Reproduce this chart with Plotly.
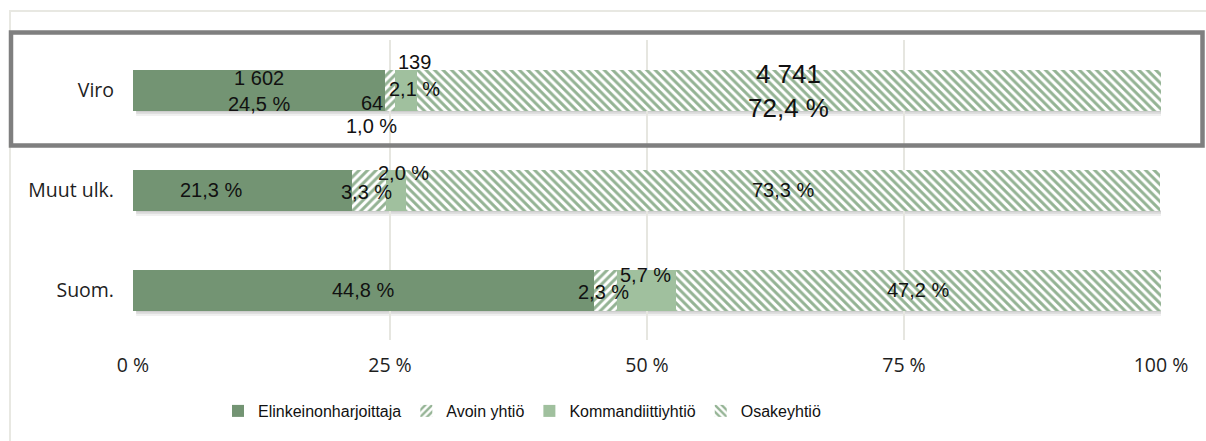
import plotly.graph_objects as go

# ---------------- data ----------------
categories = ["Viro", "Muut ulk.", "Suom."]
series_names = ["Elinkeinonharjoittaja", "Avoin yhtiö", "Kommandiittiyhtiö", "Osakeyhtiö"]
elinkeino = [24.5, 21.3, 44.8]
avoin = [1.0, 3.3, 2.3]
kommandiitti = [2.1, 2.0, 5.7]
osake = [72.4, 73.3, 47.2]
viro_counts = [1602, 64, 139, 4741]
x_tickvals = [0, 25, 50, 75, 100]
x_ticktext = ["0 %", "25 %", "50 %", "75 %", "100 %"]

series_values = [elinkeino, avoin, kommandiitti, osake]

# ---------------- style ----------------
W, H = 1206, 441
ML, MT = 133, 40
PW, PH = 1028, 300
MR, MB = W - ML - PW, H - MT - PH

colors = ["#739473", "#ffffff", "#a0c09e", "#ffffff"]
patterns = [None, "/", None, "\\"]
hatch = "#2a682a"

LABEL_FONT = dict(family="Liberation Sans, Arial, sans-serif", size=20, color="#111111")
BIG_FONT = dict(family="Liberation Sans, Arial, sans-serif", size=26, color="#111111")
AXIS_FONT = dict(family="Open Sans, sans-serif", size=19.5, color="#1e1e1e")


def fmt_pct(v):
    return f"{v:.1f}".replace(".", ",") + " %"


def fmt_count(n):
    return f"{n:,}".replace(",", " ")


fig = go.Figure()
for name, vals, col, pat in zip(series_names, series_values, colors, patterns):
    marker = dict(color=col, line=dict(width=0))
    if pat:
        marker["pattern"] = dict(shape=pat, fgcolor=hatch, bgcolor="#ffffff",
                                 size=6, solidity=0.5, fillmode="overlay")
    fig.add_trace(go.Bar(y=categories, x=vals, name=name, orientation="h",
                         marker=marker, hoverinfo="skip"))

# label offsets (pixels) per category per series: (xshift, yshift)
offsets = {
    "Muut ulk.": [(-31, 0), (-2, -2), (7, 17), (0, 0)],
    "Suom.": [(0, 0), (-2, -2), (-1, 15), (0, 0)],
}

annotations = []
for ci, cat in enumerate(categories):
    start = 0.0
    for si in range(4):
        v = series_values[si][ci]
        mid = start + v / 2
        end = start + v
        if cat == "Viro":
            if si == 0:
                annotations.append(dict(x=mid, y=cat, text=fmt_count(viro_counts[0]) + "<br>" + fmt_pct(v),
                                        showarrow=False, font=LABEL_FONT, yshift=-1))
            elif si == 1:
                annotations.append(dict(x=mid, y=cat, text=fmt_count(viro_counts[1]),
                                        showarrow=False, font=LABEL_FONT, xshift=-18, yshift=-13))
                annotations.append(dict(x=mid, y=cat, text=fmt_pct(v),
                                        showarrow=False, font=LABEL_FONT, xshift=-19, yshift=-36))
            elif si == 2:
                annotations.append(dict(x=mid, y=cat, text=fmt_count(viro_counts[2]),
                                        showarrow=False, font=LABEL_FONT, xshift=9, yshift=28))
                annotations.append(dict(x=mid, y=cat, text=fmt_pct(v),
                                        showarrow=False, font=LABEL_FONT, xshift=9, yshift=1))
            else:
                annotations.append(dict(x=mid, y=cat, text=fmt_count(viro_counts[3]) + "<br>" + fmt_pct(v),
                                        showarrow=False, font=BIG_FONT, yshift=-1))
        else:
            dx, dy = offsets[cat][si]
            annotations.append(dict(x=mid, y=cat, text=fmt_pct(v), showarrow=False,
                                    font=LABEL_FONT, xshift=dx, yshift=dy))
        start = end


def px2paper_x(px):
    return (px - ML) / PW


def px2paper_y(py):
    return (MT + PH - py) / PH


shapes = []
# soft shadow under each bar
for ci, cat in enumerate(categories):
    total = elinkeino[ci] + avoin[ci] + kommandiitti[ci] + osake[ci]
    for a, b, op in [(0.205, 0.26, 0.06), (0.205, 0.24, 0.07), (0.205, 0.222, 0.08)]:
        shapes.append(dict(type="rect", xref="x", yref="y", x0=0.3, x1=total + 0.2,
                           y0=ci + a, y1=ci + b, fillcolor=f"rgba(0,0,0,{op})",
                           line=dict(width=0), layer="below"))
# outer light chart border
shapes.append(dict(type="rect", xref="paper", yref="paper",
                   x0=px2paper_x(10), x1=px2paper_x(1240), y0=px2paper_y(11), y1=px2paper_y(480),
                   line=dict(color="#e8e8e2", width=2), fillcolor="rgba(0,0,0,0)", layer="above"))
# grey highlight box around Viro
shapes.append(dict(type="rect", xref="paper", yref="paper",
                   x0=px2paper_x(11), x1=px2paper_x(1202.5), y0=px2paper_y(32.5), y1=px2paper_y(145.5),
                   line=dict(color="#7f7f7f", width=4.5), fillcolor="rgba(0,0,0,0)", layer="above"))

fig.update_layout(
    width=W, height=H,
    margin=dict(l=ML, r=MR, t=MT, b=MB, pad=0),
    barmode="stack", bargap=0.59,
    paper_bgcolor="#ffffff", plot_bgcolor="#ffffff",
    showlegend=True,
    legend=dict(orientation="h", x=px2paper_x(522), xanchor="center",
                y=px2paper_y(411), yanchor="middle",
                font=dict(family="Liberation Sans, Arial, sans-serif", size=16, color="#111111"),
                bgcolor="rgba(0,0,0,0)", itemwidth=30, traceorder="normal"),
    annotations=annotations,
    shapes=shapes,
    xaxis=dict(range=[0, 100], tickvals=x_tickvals, ticktext=x_ticktext,
               showgrid=True, gridcolor="#e6e6e0", gridwidth=1.5, zeroline=False,
               showline=False, ticks="", tickfont=AXIS_FONT, ticklabelstandoff=11,
               fixedrange=True),
    yaxis=dict(categoryorder="array", categoryarray=categories, autorange="reversed",
               showgrid=False, zeroline=False, showline=False, ticks="",
               tickfont=AXIS_FONT, ticklabelstandoff=18, fixedrange=True),
)

fig.write_html(
    "out.html",
    config={"displayModeBar": False},
    post_script="document.body.style.margin='0';document.body.style.overflow='hidden';",
)
